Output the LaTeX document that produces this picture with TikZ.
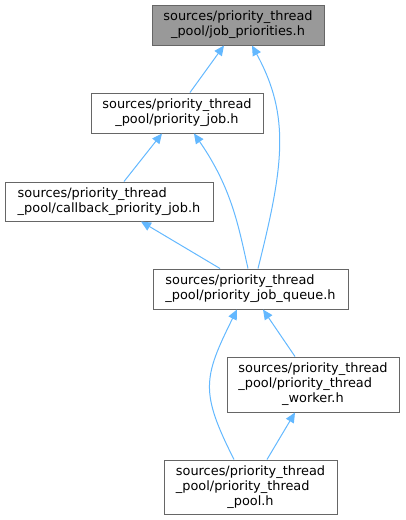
\documentclass[tikz,border=0pt]{standalone}
\usepackage{fontspec}
\setmainfont{DejaVu Sans}
\usetikzlibrary{positioning,arrows.meta}
\definecolor{dxEdge}{HTML}{63B8FF}
\definecolor{dxBorder}{HTML}{666666}
\definecolor{dxCurrent}{HTML}{999999}
\newcommand{\padline}[2]{\rlap{#2}\phantom{#1}}

\begin{document}
\begin{tikzpicture}[
      x=1pt, y=-1pt,
      font=\fontsize{12.9}{15}\selectfont,
      file/.style={draw=dxBorder, line width=1pt, fill=white, align=center,
                   inner sep=0pt, minimum height=40pt},
      current/.style={file, fill=dxCurrent},
      dep/.style={draw=dxEdge, line width=1pt, -{Triangle[length=10pt,width=9pt]}}
    ]
      \useasboundingbox (0,0) rectangle (405,520);

      \node[current, minimum width=172pt] (jobprio) at (238,25)
        {sources/priority\_thread\\\_pool/job\_priorities.h};
      \node[file, minimum width=172pt] (prjob) at (177,113)
        {sources/priority\_thread\\\_pool/priority\_job.h};
      \node[file, align=left, minimum width=208pt, minimum height=39pt] (cbjob) at (109,201.5)
        {sources/priority\_thread\\\_pool/callback\_priority\_job.h};
      \node[file, align=left, minimum width=195pt] (queue) at (250.5,289)
        {sources/priority\_thread\\\_pool/priority\_job\_queue.h};
      \node[file, minimum width=172pt, minimum height=55pt] (worker) at (313,384.5)
        {sources/priority\_thread\\\padline{sources/priority\_thread}{\_pool/priority\_thread}\\\_worker.h};
      \node[file, minimum width=173pt, minimum height=54pt] (pool) at (250.5,487)
        {sources/priority\_thread\\\padline{sources/priority\_thread}{\_pool/priority\_thread}\\\_pool.h};

      \draw[dep] ([xshift=13pt]prjob.north) -- ([xshift=-14pt]jobprio.south);
      \draw[dep] ([xshift=7.5pt]queue.north) .. controls (283.75,166) and (290.5,116) .. ([xshift=14pt]jobprio.south);
      \draw[dep] ([xshift=15pt]cbjob.north) -- ([xshift=-15pt]prjob.south);
      \draw[dep] ([xshift=-2.5pt]queue.north) .. controls (239,229) and (232.5,189) .. ([xshift=17pt]prjob.south);
      \draw[dep] ([xshift=-30.5pt]queue.north) -- ([xshift=32pt]cbjob.south);
      \draw[dep] ([xshift=-18pt]worker.north) -- ([xshift=12.5pt]queue.south);
      \draw[dep] ([xshift=-16.5pt]pool.north) .. controls (200,392) and (203,378) .. ([xshift=-13.5pt]queue.south);
      \draw[dep] ([xshift=16.5pt]pool.north) -- ([xshift=-18pt]worker.south);
    \end{tikzpicture}
\end{document}
